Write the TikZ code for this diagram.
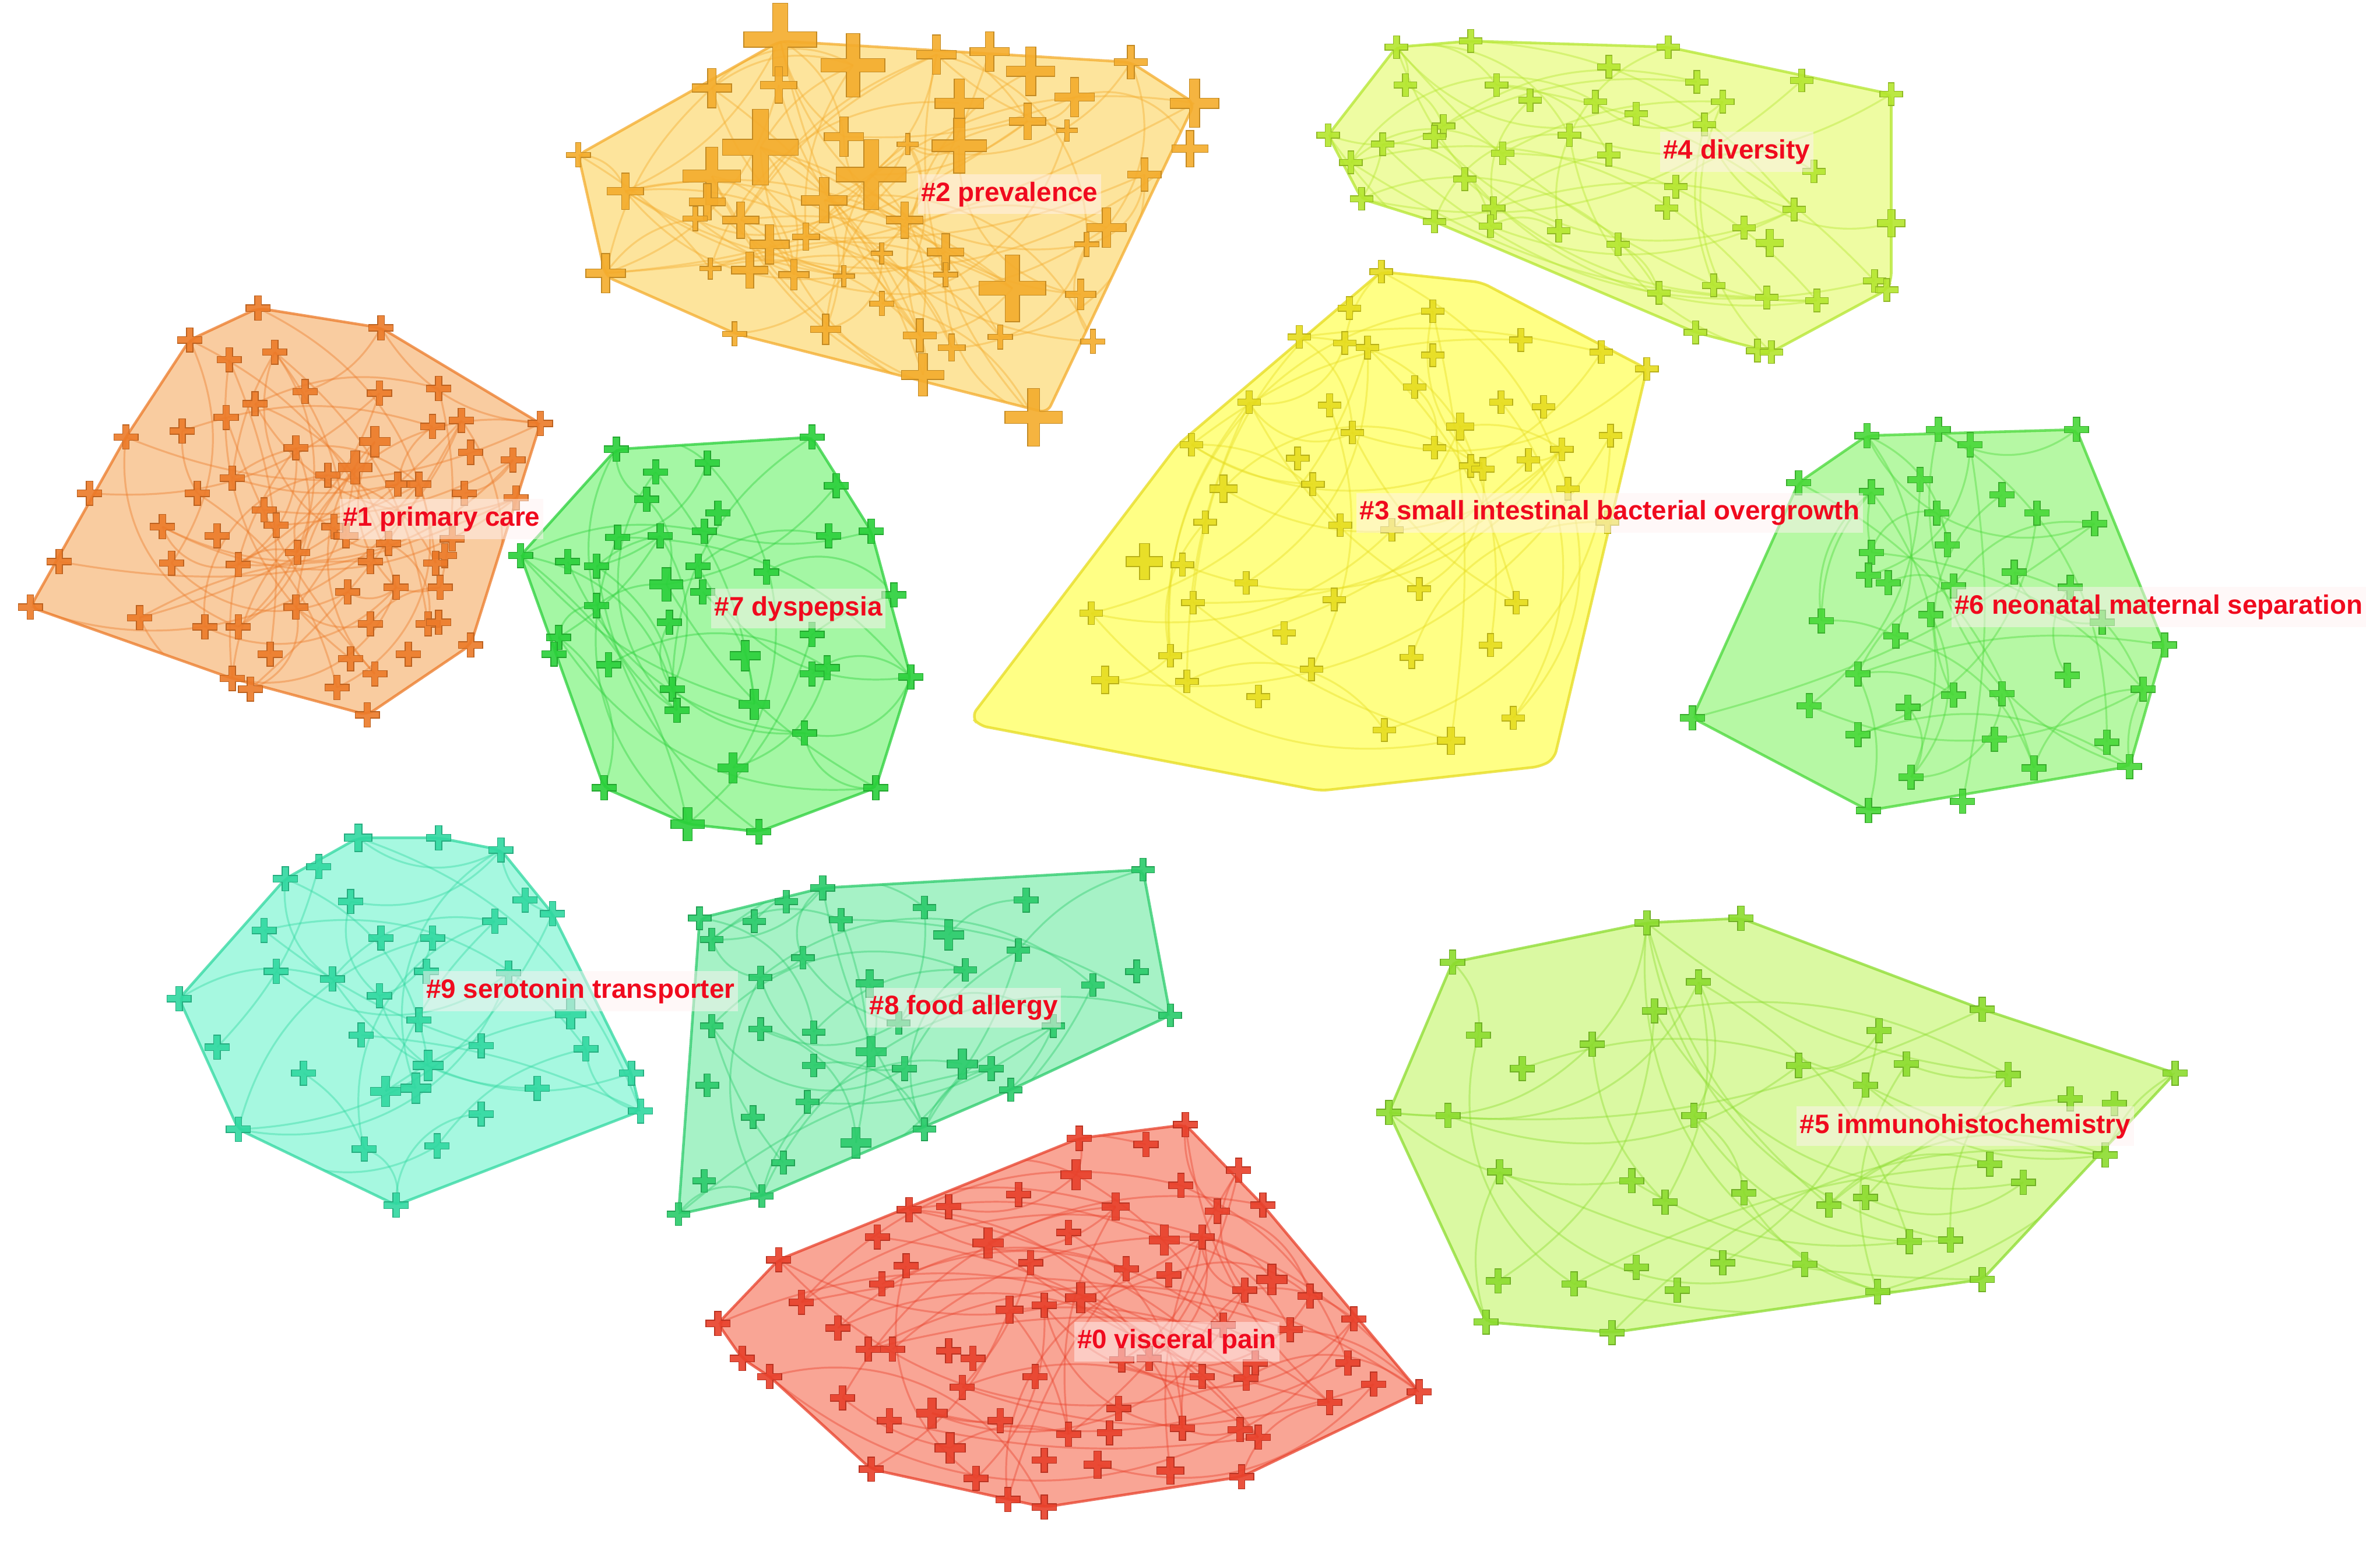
\documentclass[tikz,border=0pt]{standalone}
\usepackage{fontspec}
\newfontfamily\labfont{Liberation Sans}

% cluster colours: hull fill and node colour
\definecolor{fillzero}{HTML}{F9A595}\definecolor{colzero}{HTML}{E8402A}
\definecolor{fillone}{HTML}{F9CCA0}\definecolor{colone}{HTML}{EC7A28}
\definecolor{filltwo}{HTML}{FDE49C}\definecolor{coltwo}{HTML}{F4AC2C}
\definecolor{fillthree}{HTML}{FFFF85}\definecolor{colthree}{HTML}{E6DC1E}
\definecolor{fillfour}{HTML}{EEFCA2}\definecolor{colfour}{HTML}{B4E62E}
\definecolor{fillfive}{HTML}{DAF9A2}\definecolor{colfive}{HTML}{8CDC2E}
\definecolor{fillsix}{HTML}{B6F8A4}\definecolor{colsix}{HTML}{48D838}
\definecolor{fillseven}{HTML}{A4F7A4}\definecolor{colseven}{HTML}{2AD03A}
\definecolor{filleight}{HTML}{A6F2C6}\definecolor{coleight}{HTML}{2ACB6A}
\definecolor{fillnine}{HTML}{A6F8E0}\definecolor{colnine}{HTML}{30D8A0}
\definecolor{labred}{HTML}{F00A1E}

\tikzset{
  pics/plus/.style args={#1/#2}{code={
    \pgfmathsetmacro\ph{#1}\pgfmathsetmacro\pw{#1*#2}
    \path[pic actions] (-\ph,-\pw) -- (-\pw,-\pw) -- (-\pw,-\ph) -- (\pw,-\ph) -- (\pw,-\pw) -- (\ph,-\pw)
      -- (\ph,\pw) -- (\pw,\pw) -- (\pw,\ph) -- (-\pw,\ph) -- (-\pw,\pw) -- (-\ph,\pw) -- cycle;
  }},
  crs/.style={line width=0.15pt, fill opacity=0.9},
  link/.style={line width=0.35pt, draw opacity=0.4},
  hulledge/.style={line width=0.5pt, draw opacity=0.75, rounded corners=1.5pt},
  lab/.style={anchor=west, text=labred, font={\labfont\bfseries\fontsize{5}{6}\selectfont},
    fill=red!5, fill opacity=0.5, text opacity=1, inner xsep=0.6pt, inner ysep=1.4pt},
}

% one cluster: #1 name, #2 hull, #3 points x/y/half, #4 links, #5 bar ratio
\newcommand{\cluster}[5]{%
  \fill[fill=fill#1, rounded corners=1.5pt] #2;
  \foreach \x/\y/\h [count=\i] in #3 {\coordinate (#1-\i) at (\x,\y); \xdef\npts{\i}}
  \begin{scope}
    \clip #2;
    \foreach \k in {1,...,#4} {
      \pgfmathtruncatemacro\pa{random(1,\npts)}
      \pgfmathtruncatemacro\pb{random(1,\npts)}
      \pgfmathtruncatemacro\bd{random(10,45)}
      \ifnum\pa=\pb\else
        \draw[link, draw=col#1] (#1-\pa) to[bend left=\bd] (#1-\pb);
      \fi
    }
  \end{scope}
  \draw[hulledge, draw=col#1] #2;
  \foreach \x/\y/\h in #3 {\pic[crs, fill=col#1, draw=col#1!80!black] at (\x,\y) {plus=\h/#5};}
}

% hulls
\def\hullzero{(473,872) -- (513,830) -- (711,750) -- (781,741) -- (832,794) -- (935,917) -- (818,973) -- (688,993) -- (574,968) -- (507,907) -- (489,895) -- cycle}
\def\hullone{(20,400) -- (83,288) -- (125,224) -- (170,203) -- (251,216) -- (356,279) -- (310,425) -- (242,471) -- (153,447) -- cycle}
\def\hulltwo{(381,102) -- (514,27) -- (745,41) -- (787,68) -- (690,272) -- (485,220) -- (399,182) -- cycle}
\def\hullthree{(640,472) -- (776,293) -- (910,179) -- (976,186) -- (1085,243) -- (1024,500) -- (1015,505) -- (870,521) -- (645,478) -- cycle}
\def\hullfour{(875,89) -- (920,31) -- (969,27) -- (1099,31) -- (1246,62) -- (1246,185) -- (1243,191) -- (1167,232) -- (1117,219) -- (945,146) -- (897,131) -- cycle}
\def\hullfive{(915,733) -- (957,634) -- (1085,608) -- (1147,605) -- (1306,665) -- (1433,707) -- (1306,843) -- (1062,878) -- (979,871) -- cycle}
\def\hullsix{(1115,473) -- (1185,318) -- (1230,287) -- (1368,283) -- (1426,425) -- (1403,505) -- (1231,534) -- cycle}
\def\hullseven{(343,366) -- (406,296) -- (535,288) -- (574,350) -- (600,446) -- (577,519) -- (500,548) -- (453,543) -- (398,519) -- cycle}
\def\hulleight{(447,800) -- (461,605) -- (542,585) -- (753,573) -- (771,669) -- (666,718) -- (502,788) -- cycle}
\def\hullnine{(118,658) -- (188,579) -- (236,552) -- (289,552) -- (330,560) -- (364,602) -- (416,707) -- (422,732) -- (261,794) -- (157,744) -- cycle}

% nodes x/y/half size
\def\ptszero{781/741/8, 711/750/8, 755/754/8, 709/774/10, 816/771/8, 778/781/8, 671/787/8, 599/797/8, 625/795/8, 735/795/9,
  832/794/8, 802/798/8, 704/812/8, 578/815/8, 651/819/10, 767/817/10, 792/815/8, 513/830/8, 597/834/8, 679/832/8,
  742/836/8, 770/840/8, 581/846/8, 838/843/10, 820/850/8, 863/854/8, 528/858/8, 712/855/10, 688/860/8, 665/863/9,
  473/872/8, 552/875/8, 892/869/8, 806/873/8, 850/876/8, 572/889/8, 588/889/8, 625/890/8, 641/895/8, 739/896/8,
  757/895/8, 827/898/8, 888/898/8, 489/895/8, 682/907/8, 792/907/8, 821/908/8, 507/907/8, 634/914/8, 905/912/8,
  935/917/8, 555/921/8, 737/928/8, 876/924/8, 614/931/10, 586/936/8, 659/936/8, 704/945/8, 731/944/8, 779/941/8,
  817/942/8, 829/947/8, 626/954/10, 688/962/8, 723/965/9, 771/969/9, 574/968/8, 818/973/8, 643/974/8, 664/988/8, 688/993/8}
\def\ptsone{170/203/8, 125/224/8, 251/216/8, 151/237/8, 181/232/8, 201/258/8, 250/259/8, 289/256/8, 168/266/8, 149/275/8,
  120/284/8, 83/288/8, 304/277/8, 285/281/8, 356/279/8, 247/291/10, 195/295/8, 310/298/8, 338/303/8, 234/308/11,
  216/313/8, 153/315/8, 130/325/8, 59/325/8, 262/319/8, 276/319/8, 306/325/8, 340/328/8, 174/336/8, 182/346/8,
  107/347/8, 143/353/8, 220/347/8, 228/353/8, 256/358/8, 298/355/8, 293/366/8, 196/364/8, 39/370/8, 113/371/8,
  157/372/8, 244/370/8, 287/371/8, 229/390/8, 261/387/8, 290/387/8, 20/400/8, 195/400/8, 92/407/8, 135/413/8,
  157/413/8, 244/411/8, 282/411/8, 289/410/8, 310/425/8, 178/431/8, 231/434/8, 269/431/8, 247/444/8, 153/447/8,
  165/454/8, 222/453/8, 242/471/8}
\def\ptstwo{514/26/24, 562/43/21, 617/36/13, 652/34/13, 679/47/16, 745/41/11, 469/58/13, 513/56/12, 632/68/16, 708/64/13,
  787/68/16, 677/80/12, 703/86/7, 381/102/8, 501/97/25, 556/90/13, 598/95/7, 632/96/18, 574/115/23, 469/116/19,
  784/98/12, 754/115/11, 412/126/12, 466/133/12, 458/144/8, 543/132/15, 488/145/12, 596/145/12, 507/161/13, 531/156/9,
  729/150/13, 716/161/8, 581/167/7, 623/166/12, 399/180/13, 468/177/7, 494/178/12, 523/181/10, 556/182/7, 623/181/8,
  667/190/22, 712/194/10, 581/200/8, 484/220/8, 544/217/10, 606/221/11, 627/229/9, 659/222/8, 720/225/8, 608/247/14, 681/275/19}
\def\ptsthree{910/179/7.5, 889/203/7.5, 944/205/7.5, 856/222/7.5, 886/226/7.5, 901/229/7.5, 944/234/7.5, 1002/224/7.5, 1055/232/7.5, 1085/243/7.5,
  932/255/7.5, 823/265/7.5, 876/267/7.5, 989/265/7.5, 1017/268/7.5, 962/281/9, 891/285/7.5, 1061/287/7.5, 785/293/7.5, 945/295/7.5,
  1029/296/7.5, 855/302/7.5, 969/307/7.5, 977/309/7.5, 1007/303/7.5, 806/322/9, 865/319/7.5, 1033/322/7.5, 794/344/7.5, 883/346/7.5,
  917/349/7.5, 1059/344/7.5, 754/370/12, 779/372/7.5, 821/384/7.5, 935/388/7.5, 719/404/7.5, 786/397/7.5, 879/395/7.5, 999/397/7.5,
  846/417/7.5, 982/425/7.5, 771/432/7.5, 930/433/7.5, 728/448/9, 782/449/7.5, 864/441/7.5, 829/459/7.5, 997/473/7.5, 912/481/7.5, 956/488/9}
\def\ptsfour{920/31/7.5, 969/27/7.5, 1099/31/7.5, 1060/44/7.5, 926/56/7.5, 986/56/7.5, 1118/54/7.5, 1187/53/7.5, 1008/66/7.5, 1051/67/7.5,
  1135/67/7.5, 1246/62/7.5, 1078/75/7.5, 1123/82/7.5, 875/89/7.5, 951/83/7.5, 945/90/7.5, 1034/89/7.5, 911/95/7.5, 990/101/7.5,
  1060/102/7.5, 890/107/7.5, 1195/113/7.5, 965/118/7.5, 1104/123/7.5, 897/131/7.5, 984/137/7.5, 1098/137/7.5, 1182/138/7.5, 945/146/7.5,
  982/149/7.5, 1027/152/7.5, 1246/147/9, 1149/150/7.5, 1066/161/7.5, 1166/160/9, 1235/185/7.5, 1243/191/7.5, 1129/188/7.5, 1093/193/7.5,
  1164/196/7.5, 1197/198/7.5, 1117/219/7.5, 1158/231/7.5, 1167/232/7.5}
\def\ptsfive{1085/608/8, 1147/605/8, 957/634/8, 1119/647/8, 1090/666/8, 1306/665/8, 974/682/8, 1049/688/8, 1238/679/8, 1003/704/8,
  1185/702/8, 1256/701/8, 1323/708/8, 1229/715/8, 1433/707/8, 1364/724/8, 1393/727/8, 915/733/8, 954/735/8, 1116/735/8,
  1387/761/8, 1311/767/8, 988/772/8, 1075/778/8, 1333/779/8, 1149/786/8, 1097/792/8, 1229/789/8, 1205/794/8, 1258/818/8,
  1285/817/8, 1078/835/8, 1135/832/8, 1189/833/8, 987/844/8, 1037/846/8, 1105/850/8, 1306/843/8, 1237/851/8, 979/871/8, 1062/878/8}
\def\ptssix{1230/287/8, 1277/283/8, 1298/293/8, 1368/283/8, 1185/318/8, 1233/324/8, 1265/316/8, 1319/326/8, 1276/338/8, 1342/338/8,
  1380/345/8, 1233/364/8, 1283/359/8, 1231/379/8, 1244/384/8, 1327/377/8, 1287/386/8, 1364/387/8, 1200/409/8, 1272/405/8,
  1385/410/8, 1249/419/8, 1426/425/8, 1224/444/8, 1362/445/8, 1287/458/8, 1319/457/8, 1412/454/8, 1115/473/8, 1192/465/8,
  1257/466/8, 1224/484/8, 1314/487/8, 1388/489/8, 1403/505/8, 1259/512/8, 1340/506/8, 1293/528/8, 1231/534/8}
\def\ptsseven{406/296/8, 535/288/8, 466/305/8, 432/311/8, 551/320/8, 426/329/8, 473/338/8, 464/350/8, 407/354/8, 435/353/8,
  546/353/8, 574/350/8, 343/366/8, 374/370/8, 393/373/8, 460/373/8, 505/377/8, 439/385/11, 463/390/8, 589/392/8,
  393/399/8, 441/410/8, 535/418/8, 368/420/8, 365/431/8, 491/432/10, 401/438/8, 535/444/8, 545/440/8, 600/446/8,
  443/454/8, 497/464/10, 446/468/8, 530/483/8, 483/506/10, 398/519/8, 577/519/8, 453/543/11, 500/548/8}
\def\ptseight{753/573/7.5, 542/585/8, 518/594/7.5, 461/605/7.5, 609/598/7.5, 676/593/8, 497/607/7.5, 554/606/7.5, 469/619/7.5, 625/616/10,
  671/626/7.5, 529/631/7.5, 636/639/7.5, 749/640/7.5, 501/644/7.5, 573/648/9, 720/649/7.5, 771/669/7.5, 469/676/7.5, 501/678/7.5,
  536/680/7.5, 592/674/7.5, 694/676/7.5, 574/693/10, 536/702/7.5, 596/704/8, 634/701/10, 653/704/8, 666/718/7.5, 466/715/7.5,
  532/726/7.5, 496/736/7.5, 609/744/7.5, 564/753/10, 516/766/7.5, 464/778/7.5, 502/788/7.5, 447/800/7.5}
\def\ptsnine{236/552/9, 289/552/8, 330/560/8, 210/571/8, 188/579/8, 231/594/8, 346/593/8, 364/602/8, 174/613/8, 326/607/8,
  251/618/8, 285/618/8, 182/640/8, 219/645/8, 281/640/8, 335/641/8, 250/656/8, 118/658/8, 276/672/8, 376/668/10,
  238/682/8, 143/690/8, 317/689/8, 386/691/8, 282/702/10, 200/707/8, 416/707/8, 254/719/10, 274/717/10, 354/717/8,
  422/732/8, 317/734/8, 157/744/8, 240/757/8, 288/755/8, 261/794/8}

\begin{document}
\begin{tikzpicture}[x=0.01cm, y=-0.01cm]
  \pgfmathsetseed{11}
  \fill[white] (0,0) rectangle (1568,1017);
  \useasboundingbox (0,0) rectangle (1568,1017);

  \cluster{two}{\hulltwo}{\ptstwo}{90}{0.21}
  \cluster{four}{\hullfour}{\ptsfour}{45}{0.27}
  \cluster{three}{\hullthree}{\ptsthree}{45}{0.27}
  \cluster{one}{\hullone}{\ptsone}{65}{0.27}
  \cluster{seven}{\hullseven}{\ptsseven}{45}{0.27}
  \cluster{six}{\hullsix}{\ptssix}{40}{0.27}
  \cluster{nine}{\hullnine}{\ptsnine}{35}{0.27}
  \cluster{eight}{\hulleight}{\ptseight}{40}{0.27}
  \cluster{five}{\hullfive}{\ptsfive}{45}{0.27}
  \cluster{zero}{\hullzero}{\ptszero}{75}{0.27}

  % cluster labels
  \node[lab] (lab0) at (707,884) {\#0 visceral pain};
  \node[lab] (lab1) at (223,342) {\#1 primary care};
  \node[lab] (lab2) at (604,128) {\#2 prevalence};
  \node[lab] (lab3) at (893,338) {\#3 small intestinal bacterial overgrowth};
  \node[lab] (lab4) at (1093,100) {\#4 diversity};
  \node[lab] (lab5) at (1183,742) {\#5 immunohistochemistry};
  \node[lab] (lab6) at (1285,400) {\#6 neonatal maternal separation};
  \node[lab] (lab7) at (468,401) {\#7 dyspepsia};
  \node[lab] (lab8) at (570,664) {\#8 food allergy};
  \node[lab] (lab9) at (278,653) {\#9 serotonin transporter};
\end{tikzpicture}
\end{document}
